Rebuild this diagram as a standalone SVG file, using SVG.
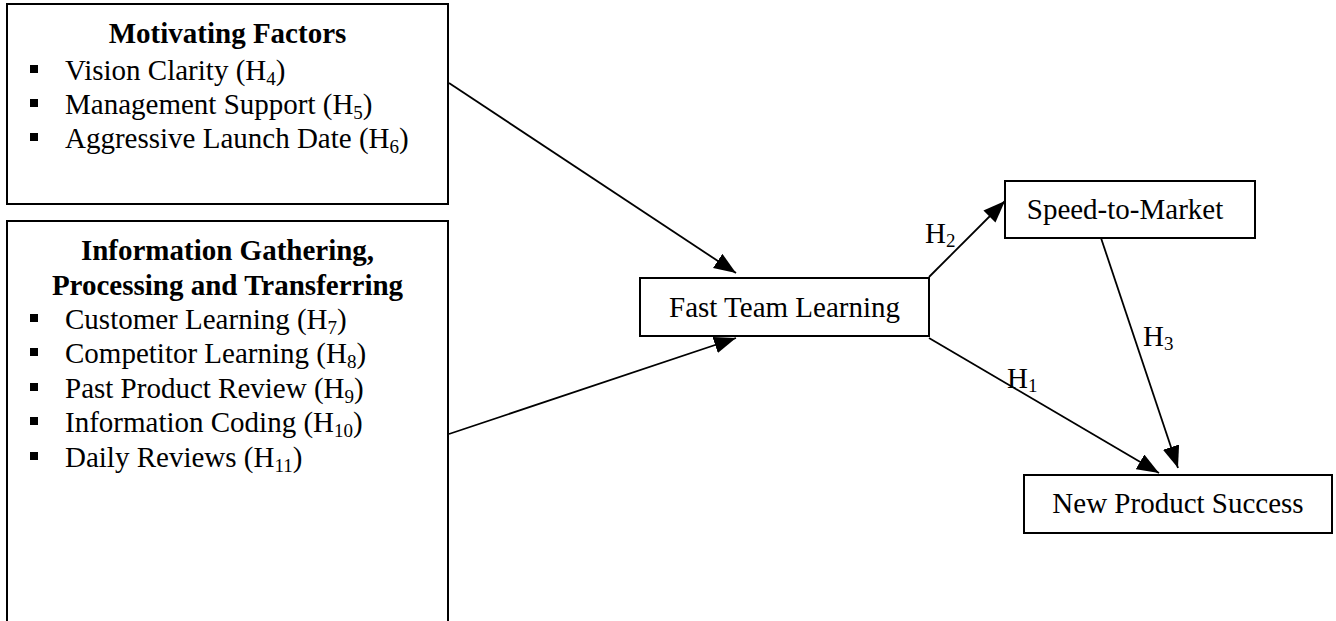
<svg xmlns="http://www.w3.org/2000/svg" width="1336" height="621" viewBox="0 0 1336 621">
<style>
.box{fill:#fff;stroke:#000;stroke-width:2}
.t{font-family:"Liberation Serif","Times New Roman",serif;font-size:29px;fill:#000}
.b{font-weight:bold}
.sub{font-size:19px}
.con{stroke:#000;stroke-width:1.8;fill:none;marker-end:url(#ah)}
.bul{fill:#000}
</style>
<defs>
<marker id="ah" markerUnits="userSpaceOnUse" markerWidth="24" markerHeight="18" refX="22" refY="8.5" orient="auto">
<path d="M0,0 L22,8.5 L0,17 z" fill="#000"/>
</marker>
</defs>
<rect width="1336" height="621" fill="#fff"/>
<g id="motivating-factors">
<rect class="box" x="7" y="4" width="441" height="200"/>
<text class="t b" x="227.5" y="43" text-anchor="middle">Motivating Factors</text>
<rect class="bul" x="30" y="65" width="8" height="8"/>
<text class="t" x="65" y="80">Vision Clarity (H<tspan class="sub" dy="5">4</tspan><tspan dy="-5">)</tspan></text>
<rect class="bul" x="30" y="99" width="8" height="8"/>
<text class="t" x="65" y="114">Management Support (H<tspan class="sub" dy="5">5</tspan><tspan dy="-5">)</tspan></text>
<rect class="bul" x="30" y="133" width="8" height="8"/>
<text class="t" x="65" y="148">Aggressive Launch Date (H<tspan class="sub" dy="5">6</tspan><tspan dy="-5">)</tspan></text>
</g>
<g id="information-gathering">
<rect class="box" x="7" y="221" width="441" height="430"/>
<text class="t b" x="227.5" y="260" text-anchor="middle">Information Gathering,</text>
<text class="t b" x="227.5" y="295" text-anchor="middle">Processing and Transferring</text>
<rect class="bul" x="30" y="314" width="8" height="8"/>
<text class="t" x="65" y="329">Customer Learning (H<tspan class="sub" dy="5">7</tspan><tspan dy="-5">)</tspan></text>
<rect class="bul" x="30" y="348" width="8" height="8"/>
<text class="t" x="65" y="363">Competitor Learning (H<tspan class="sub" dy="5">8</tspan><tspan dy="-5">)</tspan></text>
<rect class="bul" x="30" y="383" width="8" height="8"/>
<text class="t" x="65" y="398">Past Product Review (H<tspan class="sub" dy="5">9</tspan><tspan dy="-5">)</tspan></text>
<rect class="bul" x="30" y="417" width="8" height="8"/>
<text class="t" x="65" y="432">Information Coding (H<tspan class="sub" dy="5">10</tspan><tspan dy="-5">)</tspan></text>
<rect class="bul" x="30" y="452" width="8" height="8"/>
<text class="t" x="65" y="467">Daily Reviews (H<tspan class="sub" dy="5">11</tspan><tspan dy="-5">)</tspan></text>
</g>
<g id="fast-team-learning">
<rect class="box" x="640" y="278" width="289" height="58"/>
<text class="t" x="784.5" y="317" text-anchor="middle">Fast Team Learning</text>
</g>
<g id="speed-to-market">
<rect class="box" x="1005" y="181" width="250" height="57"/>
<text class="t" x="1125" y="219" text-anchor="middle">Speed-to-Market</text>
</g>
<g id="new-product-success">
<rect class="box" x="1024" y="475" width="308" height="58"/>
<text class="t" x="1178" y="513" text-anchor="middle">New Product Success</text>
</g>
<g id="connectors">
<line class="con" x1="449" y1="83" x2="736" y2="273"/>
<line class="con" x1="449" y1="434" x2="736" y2="338"/>
<line class="con" x1="929" y1="277" x2="1005" y2="201"/>
<line class="con" x1="929" y1="338" x2="1159" y2="473"/>
<line class="con" x1="1101" y1="238" x2="1178" y2="468"/>
<text class="t" x="925" y="243">H<tspan class="sub" dy="4">2</tspan></text>
<text class="t" x="1143" y="346">H<tspan class="sub" dy="4">3</tspan></text>
<text class="t" x="1007" y="388">H<tspan class="sub" dy="4">1</tspan></text>
</g>
</svg>
